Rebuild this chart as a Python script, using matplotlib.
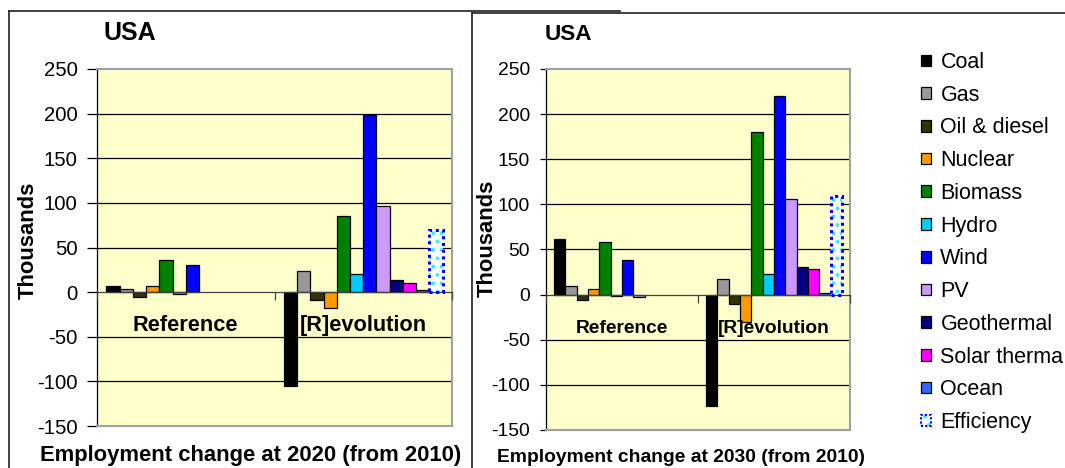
import numpy as np
import matplotlib
matplotlib.use('Agg')
import matplotlib.pyplot as plt
from matplotlib.patches import Patch
from matplotlib.lines import Line2D

plt.rcParams['font.family'] = ['Liberation Sans', 'DejaVu Sans']
plt.rcParams['hatch.linewidth'] = 1.6

technologies = ['Coal', 'Gas', 'Oil & diesel', 'Nuclear', 'Biomass', 'Hydro', 'Wind',
                'PV', 'Geothermal', 'Solar therma', 'Ocean', 'Efficiency']
colors = ['#000000', '#999999', '#333300', '#ff9900', '#008000', '#00ccff', '#0000ff',
          '#cc99ff', '#000080', '#ff00ff', '#3366ff', '#ffffff']
scenarios = ['Reference', '[R]evolution']

# thousands of jobs, change from 2010
ref_2020 = [7, 3, -5, 7, 36, -2, 30, 0, 0, 0, 0, 0]
rev_2020 = [-105, 23.5, -9, -18, 85, 20, 198, 96, 14, 10.5, 2, 70]
ref_2030 = [62, 10, -6, 6.5, 58, -1.5, 38.5, -3, 0, 0, 0, 0]
rev_2030 = [-123, 17, -10.5, -30, 180, 23, 220, 105.5, 30.5, 28, 1.5, 109]

yticks = [-150, -100, -50, 0, 50, 100, 150, 200, 250]

fig = plt.figure(figsize=(10.65, 4.68), dpi=100)

# panel frames (figure pixel coords)
W, H = 1065, 468
def fx(px):
    return px / W
def fy(py):
    return 1 - py / H

fig.add_artist(Line2D([fx(9), fx(9)], [fy(11), 0], color='#202020', lw=1.2))
fig.add_artist(Line2D([fx(9), fx(620)], [fy(10.5), fy(10.5)], color='#202020', lw=1.2))
fig.add_artist(Line2D([fx(471.5), fx(471.5)], [fy(12.5), 0], color='#202020', lw=1.2))
fig.add_artist(Line2D([fx(471.5), 1], [fy(12.5), fy(12.5)], color='#202020', lw=1.2))

bar_w = 1 / 13.4
offsets = (np.arange(12) - 5.5) * bar_w


def draw_panel(ax, ref_vals, rev_vals, scale, tick_scale, tick_len):
    ax.set_facecolor('#ffffcc')
    for g, vals in enumerate([ref_vals, rev_vals]):
        vals = np.array(vals, dtype=float)
        xs = g + offsets
        lws = np.where(vals == 0, 0, 0.9)
        # regular technologies
        ax.bar(xs[:11], vals[:11], width=bar_w, color=colors[:11],
               edgecolor='black', linewidth=lws[:11], zorder=3)
        # efficiency: dotted fill with dotted blue outline
        if vals[11] != 0:
            ax.bar(xs[11], vals[11], width=bar_w, color='white',
                   edgecolor='#33eeff', hatch='..', linewidth=0, zorder=3)
            ax.bar(xs[11], vals[11], width=bar_w, color='none',
                   edgecolor='#0000ff', linewidth=2.2, linestyle=(0, (1, 1.2)), zorder=4)
        ax.text(g, -37, scenarios[g], ha='center', va='center',
                fontsize=15.7 * scale, fontweight='bold', zorder=5)

    ax.set_xlim(-0.5, 1.5)
    ax.set_ylim(-150, 250)
    ax.set_yticks(yticks)
    ax.set_yticklabels([str(t) for t in yticks])
    ax.tick_params(axis='y', direction='out', length=tick_len, width=0.9, pad=7,
                   labelsize=14.6 * tick_scale, colors='black')
    ax.set_xticks([])
    for t in yticks[1:-1]:
        if t != 0:
            ax.axhline(t, color='black', lw=0.9, zorder=1)
    for s in ['top', 'right', 'bottom']:
        ax.spines[s].set_color('#a0a0a0')
        ax.spines[s].set_linewidth(1.5)
    ax.spines['left'].set_color('black')
    ax.spines['left'].set_linewidth(0.9)

    # category axis crossing at zero
    sec = ax.secondary_xaxis(150 / 400)
    sec.set_xticks([-0.5, 0.5, 1.5])
    sec.set_xticklabels([])
    sec.tick_params(axis='x', direction='out', length=6, width=0.9, colors='#404040')
    sec.spines['bottom'].set_color('#404040')
    sec.spines['bottom'].set_linewidth(0.9)
    sec.set_zorder(3.5)


ax1 = fig.add_axes([fx(97), fy(426), (452 - 97) / W, (426 - 69) / H])
draw_panel(ax1, ref_2020, rev_2020, 1.0, 1.0, 7)
ax2 = fig.add_axes([fx(546), fy(430), (850 - 546) / W, (430 - 69) / H])
draw_panel(ax2, ref_2030, rev_2030, 0.88, 0.95, 4.5)

fig.text(fx(130), fy(33), 'USA', ha='center', va='center', fontsize=18, fontweight='bold')
fig.text(fx(568), fy(35), 'USA', ha='center', va='center', fontsize=16.2, fontweight='bold')
fig.text(fx(28), fy(240), 'Thousands', rotation=90, ha='center', va='center',
         fontsize=15.8, fontweight='bold')
fig.text(fx(487), fy(238), 'Thousands', rotation=90, ha='center', va='center',
         fontsize=15.8, fontweight='bold')
fig.text(fx(251), fy(455), 'Employment change at 2020 (from 2010)', ha='center',
         va='center', fontsize=15.8, fontweight='bold')
fig.text(fx(681), fy(457), 'Employment change at 2030 (from 2010)', ha='center',
         va='center', fontsize=13.9, fontweight='bold')

handles = []
for name, c in zip(technologies, colors):
    if name == 'Efficiency':
        handles.append((Patch(facecolor='white', edgecolor='#33eeff', hatch='..', linewidth=0),
                        Patch(facecolor='none', edgecolor='#0000ff', linewidth=1.5,
                              linestyle=(0, (1, 1)))))
    else:
        handles.append(Patch(facecolor=c, edgecolor='black', linewidth=0.9))

fig.legend(handles, technologies, loc='upper left', bbox_to_anchor=(fx(921), fy(52)),
           bbox_transform=fig.transFigure, frameon=False, fontsize=15.5,
           handlelength=0.45, handleheight=0.45, handletextpad=0.45,
           labelspacing=0.545, borderpad=0, borderaxespad=0)

fig.savefig('out.png', dpi=100)
